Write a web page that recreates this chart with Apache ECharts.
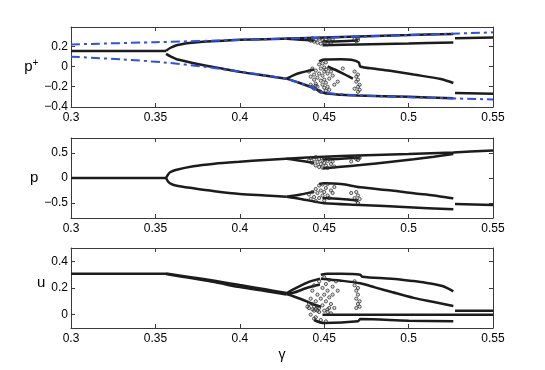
<!DOCTYPE html>
<html>
<head>
<meta charset="utf-8">
<script src="https://cdn.jsdelivr.net/npm/echarts@6/dist/echarts.min.js"></script>
<style>html,body{margin:0;padding:0;background:#fff}#c{width:545px;height:370px}</style>
</head>
<body>
<div id="c"></div>
<script>
// ---------- x axis ----------
var gammaTicks = [0.3, 0.35, 0.4, 0.45, 0.5, 0.55];

// ---------- panel 1 : p+ ----------
var p1Ticks = [-0.4, -0.2, 0, 0.2];
var p1Flat = [[0.3,0.153],[0.3563,0.153]];
var p1UpperMain = [[0.3563,0.155],[0.359,0.185],[0.3626,0.21],[0.37,0.232],[0.3764,0.243],[0.39,0.255],[0.4,0.263],[0.43,0.277],[0.45,0.287],[0.47,0.297],[0.5,0.31],[0.5265,0.322]];
var p1UpperJump = [[0.5275,0.279],[0.55,0.286]];
var p1UpperSplit = [[0.4277,0.275],[0.436,0.265],[0.444,0.255]];
var p1UpperInner = [[0.449,0.21],[0.47,0.218],[0.5,0.228],[0.5265,0.238]];
var p1UpperMid = [[0.449,0.247],[0.46,0.25],[0.47,0.257]];
var p1LowerMain = [[0.3563,0.125],[0.3595,0.095],[0.3626,0.072],[0.3764,0.02],[0.39,-0.022],[0.4,-0.053],[0.415,-0.09],[0.4277,-0.12]];
var p1LowerOuter = [[0.4277,-0.12],[0.435,-0.16],[0.444,-0.215],[0.45,-0.262],[0.46,-0.278],[0.47,-0.287],[0.5,-0.3],[0.5265,-0.313]];
var p1LowerJump = [[0.5275,-0.262],[0.55,-0.268]];
var p1LowerUp = [[0.4277,-0.12],[0.432,-0.085],[0.436,-0.062],[0.444,-0.03]];
var p1Arch = [[0.447,0.05],[0.45,0.068],[0.46,0.072],[0.466,0.066],[0.4705,0.04],[0.4714,0.0],[0.48,-0.022],[0.49,-0.045],[0.503,-0.08],[0.519,-0.123],[0.5265,-0.163]];
var p1InnerDiag = [[0.452,0.0],[0.46,-0.06],[0.467,-0.12]];
var p1Chaos = [[0.441,-0.05],[0.442,-0.1],[0.442,-0.18],[0.443,-0.02],[0.443,-0.2],[0.444,-0.08],[0.444,-0.13],[0.444,-0.22],[0.445,-0.04],[0.445,-0.17],[0.445,-0.19],[0.446,-0.11],[0.446,-0.2],[0.447,0.02],[0.447,-0.07],[0.447,-0.24],[0.448,-0.02],[0.448,-0.14],[0.448,-0.25],[0.449,0.03],[0.449,-0.09],[0.449,-0.18],[0.45,-0.01],[0.45,-0.05],[0.45,-0.13],[0.45,-0.21],[0.451,0.04],[0.451,-0.03],[0.451,-0.16],[0.451,-0.24],[0.452,-0.07],[0.452,-0.2],[0.453,-0.02],[0.453,-0.12],[0.453,-0.23],[0.454,-0.05],[0.455,-0.09],[0.456,-0.18],[0.458,-0.15],[0.468,-0.05],[0.469,-0.1],[0.469,-0.15],[0.47,-0.2],[0.47,-0.08],[0.47,-0.25],[0.471,-0.18],[0.468,-0.22],[0.47,-0.13],[0.471,-0.23],[0.461,-0.02],[0.441,0.27],[0.442,0.255],[0.443,0.28],[0.444,0.245],[0.445,0.265],[0.446,0.235],[0.447,0.275],[0.448,0.225],[0.449,0.26],[0.45,0.24],[0.451,0.27],[0.452,0.22],[0.453,0.255],[0.454,0.235],[0.455,0.27],[0.468,0.27],[0.469,0.25],[0.47,0.28],[0.47,0.26]];
var p1BlueUpper = [[0.3,0.218],[0.35,0.24],[0.4,0.262],[0.45,0.285],[0.5,0.31],[0.55,0.337]];
var p1BlueLower = [[0.3,0.097],[0.33,0.07],[0.355,0.04],[0.38,-0.005],[0.4,-0.05],[0.42,-0.1],[0.4277,-0.12],[0.435,-0.16],[0.444,-0.215],[0.45,-0.258],[0.47,-0.284],[0.5,-0.303],[0.55,-0.325]];

// ---------- panel 2 : p ----------
var p2Ticks = [-0.5, 0, 0.5];
var p2Flat = [[0.3,0],[0.3563,0]];
var p2UpperMain = [[0.3563,0],[0.3575,0.07],[0.3587,0.115],[0.362,0.16],[0.3725,0.235],[0.385,0.285],[0.4,0.325],[0.415,0.36],[0.4297,0.39],[0.44,0.41],[0.45,0.427],[0.47,0.45],[0.5,0.48],[0.5265,0.512],[0.55,0.55]];
var p2UpperSplit = [[0.4278,0.385],[0.435,0.35],[0.444,0.3]];
var p2UpperInner = [[0.449,0.19],[0.46,0.225],[0.4714,0.26],[0.49,0.325],[0.503,0.373],[0.515,0.425],[0.5265,0.48]];
var p2UpperMid = [[0.449,0.37],[0.46,0.385],[0.4714,0.41]];
var p2LowerMain = [[0.3563,0],[0.3575,-0.07],[0.3587,-0.107],[0.362,-0.15],[0.3725,-0.207],[0.385,-0.265],[0.4,-0.32],[0.415,-0.35],[0.4278,-0.375]];
var p2LowerOuter = [[0.4278,-0.375],[0.436,-0.42],[0.444,-0.47],[0.45,-0.507],[0.4714,-0.54],[0.5,-0.585],[0.5265,-0.627]];
var p2LowerJump = [[0.5275,-0.52],[0.55,-0.54]];
var p2LowerUp = [[0.4278,-0.375],[0.436,-0.33],[0.444,-0.273]];
var p2LowerInner = [[0.447,-0.12],[0.45,-0.105],[0.46,-0.12],[0.4714,-0.187],[0.49,-0.25],[0.503,-0.307],[0.515,-0.35],[0.5265,-0.407]];
var p2LowerMid = [[0.449,-0.4],[0.46,-0.42],[0.47,-0.45]];
var p2Chaos = [[0.441,0.35],[0.442,0.4],[0.443,0.3],[0.444,0.37],[0.445,0.25],[0.445,0.42],[0.446,0.32],[0.447,0.22],[0.447,0.38],[0.448,0.28],[0.449,0.35],[0.449,0.21],[0.45,0.3],[0.45,0.4],[0.451,0.25],[0.452,0.34],[0.452,0.2],[0.453,0.38],[0.454,0.28],[0.455,0.33],[0.456,0.23],[0.468,0.42],[0.469,0.38],[0.47,0.43],[0.47,0.36],[0.471,0.4],[0.466,0.33],[0.441,-0.33],[0.442,-0.42],[0.443,-0.28],[0.444,-0.38],[0.445,-0.22],[0.445,-0.46],[0.446,-0.3],[0.447,-0.15],[0.447,-0.4],[0.448,-0.25],[0.449,-0.35],[0.449,-0.13],[0.45,-0.28],[0.45,-0.45],[0.451,-0.2],[0.452,-0.35],[0.452,-0.12],[0.453,-0.4],[0.454,-0.25],[0.455,-0.3],[0.456,-0.18],[0.468,-0.4],[0.469,-0.45],[0.47,-0.35],[0.47,-0.5],[0.471,-0.42],[0.466,-0.3],[0.469,-0.28]];

// ---------- panel 3 : u ----------
var p3Ticks = [0, 0.2, 0.4];
var p3Flat = [[0.3,0.307],[0.3563,0.307]];
var p3BandHigh = [[0.3563,0.309],[0.37,0.283],[0.385,0.254],[0.4,0.222],[0.415,0.19],[0.4277,0.162]];
var p3BandLow = [[0.3563,0.305],[0.37,0.276],[0.385,0.244],[0.4,0.207],[0.415,0.178],[0.4277,0.152]];
var p3ArmUpA = [[0.4277,0.16],[0.4317,0.189],[0.4396,0.239],[0.4475,0.27]];
var p3ArmUpB = [[0.4277,0.158],[0.4317,0.164],[0.4396,0.2],[0.4475,0.226]];
var p3ArmDown = [[0.4277,0.155],[0.4317,0.138],[0.4396,0.1],[0.444,0.075],[0.448,0.06]];
var p3Top = [[0.448,0.3],[0.452,0.307],[0.46,0.307],[0.4714,0.3],[0.4725,0.285],[0.49,0.27],[0.503,0.252],[0.51,0.24],[0.52,0.215],[0.5265,0.175]];
var p3Second = [[0.448,0.27],[0.46,0.255],[0.4714,0.235],[0.48,0.205],[0.49,0.17],[0.503,0.126],[0.515,0.095],[0.5265,0.065]];
var p3Zero = [[0.449,0],[0.55,0]];
var p3Neg = [[0.444,-0.04],[0.45,-0.063],[0.47,-0.05],[0.4714,-0.033],[0.5,-0.045],[0.5265,-0.05]];
var p3Jump = [[0.5275,0.03],[0.55,0.03]];
var p3Chaos = [[0.441,0.05],[0.442,0.12],[0.442,0.0],[0.443,0.18],[0.443,0.08],[0.444,0.03],[0.444,0.22],[0.445,0.1],[0.445,-0.02],[0.446,0.15],[0.446,0.06],[0.447,0.25],[0.447,0.02],[0.448,0.12],[0.448,-0.04],[0.449,0.2],[0.449,0.07],[0.45,0.28],[0.45,0.15],[0.45,0.03],[0.451,0.23],[0.451,0.1],[0.451,-0.05],[0.452,0.18],[0.452,0.04],[0.453,0.26],[0.453,0.13],[0.454,0.08],[0.454,0.01],[0.455,0.21],[0.455,0.15],[0.456,0.05],[0.457,0.25],[0.458,0.18],[0.468,0.22],[0.469,0.18],[0.469,0.12],[0.47,0.08],[0.47,0.15],[0.47,0.2],[0.471,0.06],[0.471,0.1],[0.468,0.25],[0.469,0.05],[0.44,0.06],[0.441,0.08],[0.443,0.04],[0.444,0.06],[0.446,0.03],[0.447,0.05],[0.452,0.02],[0.453,0.05],[0.444,-0.03],[0.445,0.04]];

// ---------- build ----------
var FONT = 'Liberation Sans';
var AX = '#3a3a3a';
var grids = [
  {left:71, right:52, top:27, height:80},
  {left:71, right:52, top:138, height:80},
  {left:71, right:52, top:248, height:80}
];
var yDefs = [
  {min:-0.4, max:0.39, ticks:p1Ticks, name:'{p|p}{s|+}', pad:[0,0,0,0]},
  {min:-0.8, max:0.8, ticks:p2Ticks, name:'{p|p}', pad:[0,0,0,0]},
  {min:-0.1, max:0.5, ticks:p3Ticks, name:'{p|u}', pad:[0,0,10,0]}
];
function fmt(v){ var s = String(+v.toFixed(4)); return s.replace('-', '\u2212'); }
var xAxes = [], yAxes = [];
grids.forEach(function(g, i){
  xAxes.push({gridIndex:i, type:'value', min:0.3, max:0.55, interval:0.05, position:'bottom',
    name: i===2 ? '\u03b3' : '', nameLocation:'middle', nameGap:20,
    nameTextStyle:{fontFamily:FONT, fontSize:14, color:'#000'},
    axisLine:{show:true, onZero:false, lineStyle:{color:AX, width:1}},
    axisTick:{show:true, inside:true, length:4, lineStyle:{color:AX}},
    axisLabel:{show:true, fontFamily:FONT, fontSize:12, color:'#000', margin:5, formatter:fmt},
    splitLine:{show:false}});
  xAxes.push({gridIndex:i, type:'value', min:0.3, max:0.55, interval:0.05, position:'top',
    axisLine:{show:true, onZero:false, lineStyle:{color:AX, width:1}},
    axisTick:{show:true, inside:true, length:4, lineStyle:{color:AX}},
    axisLabel:{show:false}, splitLine:{show:false}});
  var d = yDefs[i];
  yAxes.push({gridIndex:i, type:'value', min:d.min, max:d.max, position:'left',
    name:d.name, nameLocation:'middle', nameRotate:0, nameGap:i===2?22:26,
    nameTextStyle:{padding:d.pad, rich:{p:{fontFamily:FONT, fontSize:15, color:'#000'}, s:{fontFamily:FONT, fontSize:10, color:'#000', verticalAlign:'top', padding:[0,0,8,0]}}},
    axisLine:{show:true, onZero:false, lineStyle:{color:AX, width:1}},
    axisTick:{show:true, inside:true, length:4, customValues:d.ticks, lineStyle:{color:AX}},
    axisLabel:{show:true, customValues:d.ticks, fontFamily:FONT, fontSize:12, color:'#000', margin:3, formatter:fmt},
    splitLine:{show:false}});
  yAxes.push({gridIndex:i, type:'value', min:d.min, max:d.max, position:'right',
    axisLine:{show:true, onZero:false, lineStyle:{color:AX, width:1}},
    axisTick:{show:true, inside:true, length:4, customValues:d.ticks, lineStyle:{color:AX}},
    axisLabel:{show:false}, splitLine:{show:false}});
});

var series = [];
function branch(data, gi){
  series.push({type:'line', xAxisIndex:gi*2, yAxisIndex:gi*2, data:data, showSymbol:false, symbol:'none',
    smooth:0.3, lineStyle:{color:'#1c1c1c', width:2.5}, silent:true, animation:false, z:2});
}
function cloud(data, gi){
  series.push({type:'scatter', xAxisIndex:gi*2, yAxisIndex:gi*2, data:data, symbol:'circle', symbolSize:3.2,
    itemStyle:{color:'rgba(120,120,120,0.3)', borderColor:'#222', borderWidth:0.9}, silent:true, animation:false, z:3});
}
function blue(data, gi){
  series.push({type:'line', xAxisIndex:gi*2, yAxisIndex:gi*2, data:data, showSymbol:false, symbol:'none',
    smooth:0.3, lineStyle:{color:'#2e4ff0', width:2, type:[9,4,3,4]}, silent:true, animation:false, z:4});
}
[p1Flat,p1UpperMain,p1UpperJump,p1UpperSplit,p1UpperInner,p1UpperMid,p1LowerMain,p1LowerOuter,p1LowerJump,p1LowerUp,p1Arch,p1InnerDiag].forEach(function(d){branch(d,0);});
cloud(p1Chaos,0);
blue(p1BlueUpper,0); blue(p1BlueLower,0);
[p2Flat,p2UpperMain,p2UpperSplit,p2UpperInner,p2UpperMid,p2LowerMain,p2LowerOuter,p2LowerJump,p2LowerUp,p2LowerInner,p2LowerMid].forEach(function(d){branch(d,1);});
cloud(p2Chaos,1);
[p3Flat,p3BandHigh,p3BandLow,p3ArmUpA,p3ArmUpB,p3ArmDown,p3Top,p3Second,p3Zero,p3Neg,p3Jump].forEach(function(d){branch(d,2);});
cloud(p3Chaos,2);

var chart = echarts.init(document.getElementById('c'), null, {renderer:'canvas'});
chart.setOption({backgroundColor:'#fff', animation:false, grid:grids, xAxis:xAxes, yAxis:yAxes, series:series});
</script>
</body>
</html>
